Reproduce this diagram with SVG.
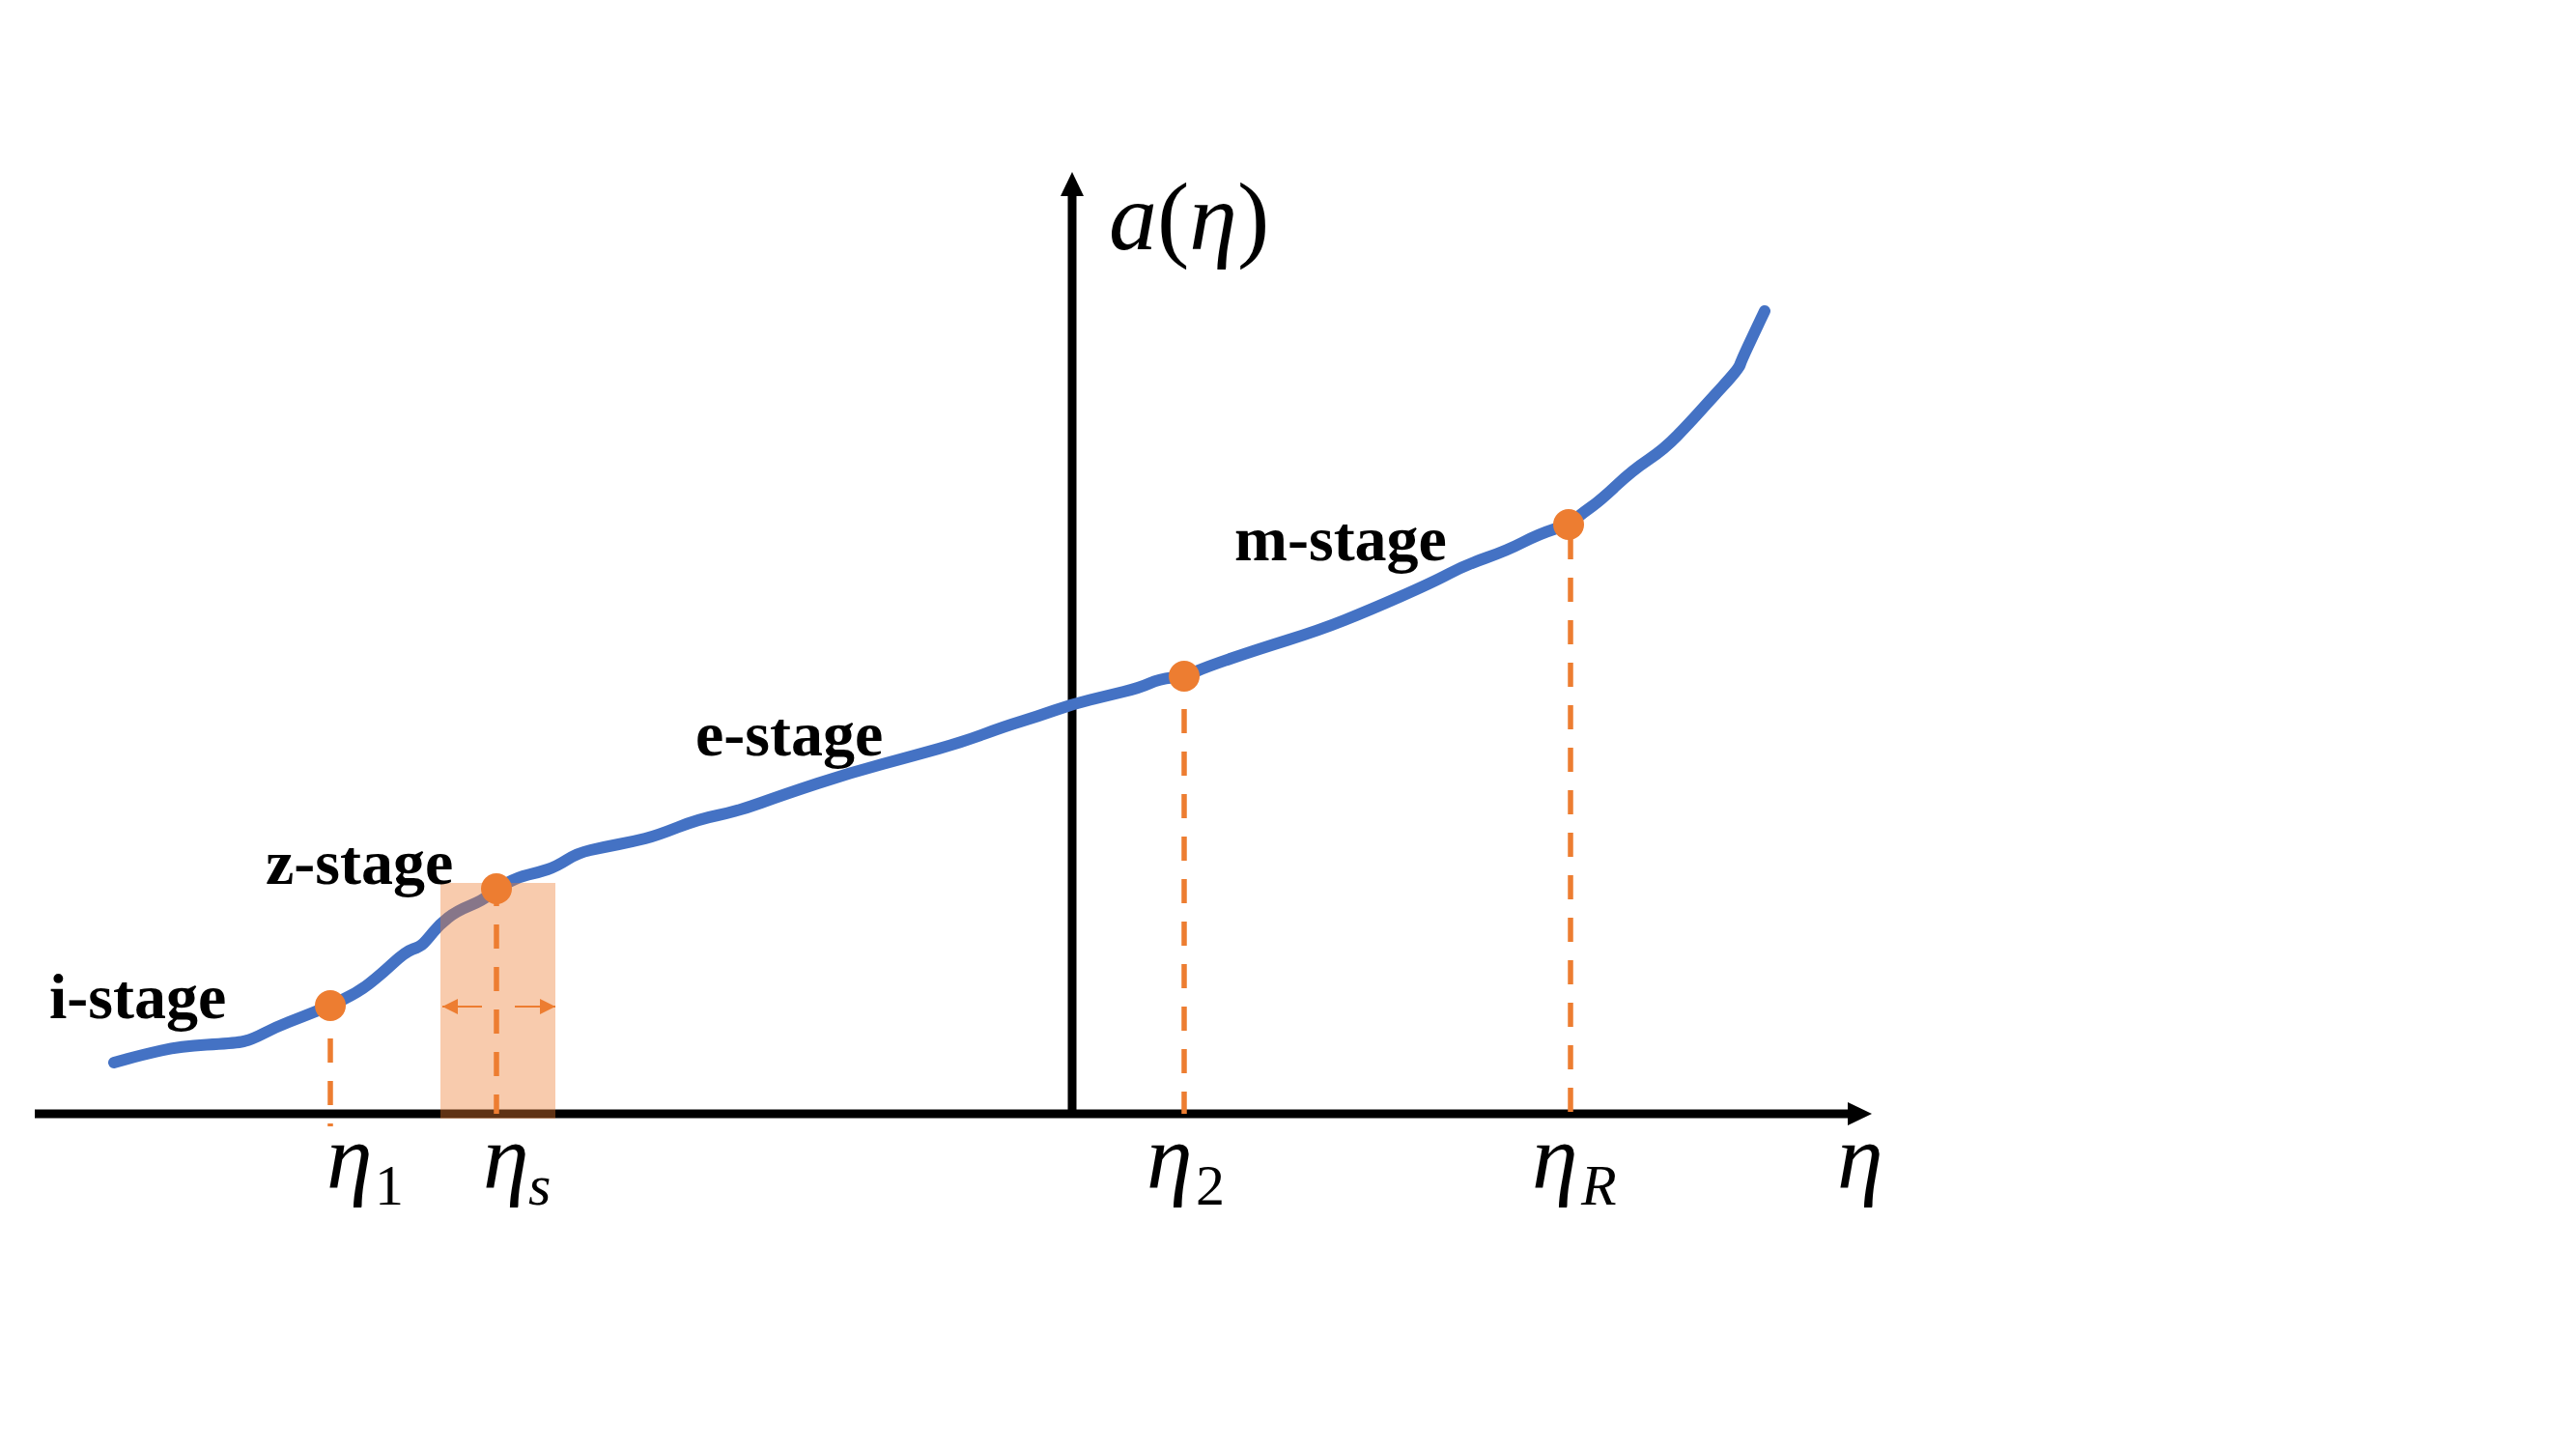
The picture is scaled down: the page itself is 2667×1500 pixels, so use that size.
<svg xmlns="http://www.w3.org/2000/svg" width="2667" height="1500" viewBox="0 0 2667 1500">
<style>
.axis{stroke:#000;stroke-width:9;fill:none}
.curve{stroke:#4472C4;stroke-width:12;fill:none;stroke-linecap:round;stroke-linejoin:round}
.dash{stroke:#ED7D31;stroke-width:5.5;stroke-dasharray:25 19;fill:none}
.dot{fill:#ED7D31}
.stage{font-family:"Liberation Serif","Times New Roman",serif;font-weight:bold;font-size:66px;fill:#000}
.math{font-family:"Liberation Serif","Times New Roman",serif;font-style:italic;font-size:96px;fill:#000}
.big{font-size:100px}
.sub{font-size:60px}
.up{font-style:normal}
.small{stroke:#ED7D31;stroke-width:2;fill:none}
</style>
<defs>
<marker id="axHead" markerUnits="userSpaceOnUse" markerWidth="26" markerHeight="26" refX="0" refY="12" orient="auto">
<path d="M0,0 L25,12 L0,24 Z" fill="#000"/>
</marker>
<marker id="smHead" markerUnits="userSpaceOnUse" markerWidth="17" markerHeight="17" refX="16" refY="8" orient="auto">
<path d="M0,0 L16,8 L0,16 Z" fill="#ED7D31"/>
</marker>
</defs>
<rect width="2667" height="1500" fill="#fff"/>
<g id="connectors">
<line id="x-axis" class="axis" x1="36" y1="1153" x2="1913" y2="1153" marker-end="url(#axHead)"/>
<line id="y-axis" class="axis" x1="1110" y1="1157" x2="1110" y2="203" marker-end="url(#axHead)"/>
</g>
<g id="curve">
<path class="curve" d="M118,1100 L132.5,1096 Q147,1092 167,1087.5 Q187,1083 214,1081.5 Q241,1080 250,1078.5 Q259,1077 272.5,1070 Q286,1063 299,1058 Q312,1053 327,1047 Q342,1041 356.5,1034 Q371,1027 382,1018.5 Q393,1010 406.5,997.5 Q420,985 427.5,982.5 Q435,980 438.5,976.5 Q442,973 448.5,965 Q455,957 464,950 Q473,943 486.5,937.5 Q500,932 507,926 Q514,920 525,914 Q536,908 547,905.5 Q558,903 567,900 Q576,897 587,890 Q598,883 611.5,880 Q625,877 640.5,874 Q656,871 668,868 Q680,865 701.5,856.5 Q723,848 743,844 Q763,840 788,831 Q813,822 846.5,811 Q880,800 913.5,791 Q947,782 972,775 Q997,768 1018.5,760 Q1040,752 1056.5,747 Q1073,742 1091.5,735.5 Q1110,729 1128.5,724.5 Q1147,720 1163.5,716 Q1180,712 1190,707.5 Q1200,703 1213.5,701.5 Q1227,700 1238.5,695 Q1250,690 1275,681.5 Q1300,673 1333.5,662.5 Q1367,652 1392,642 Q1417,632 1450,617.5 Q1483,603 1500,594 Q1517,585 1538.5,577.5 Q1560,570 1576.5,561.5 Q1593,553 1608.5,548 Q1624,543 1632,536.5 Q1640,530 1648.5,524 Q1657,518 1673.5,502.5 Q1690,487 1706.5,476 Q1723,465 1736.5,451 Q1750,437 1758.5,427.5 Q1767,418 1783.5,400 Q1800,382 1801.5,377.5 Q1803,373 1810,358 Q1817,343 1822,332.5 L1827,322"/>
</g>
<g id="zone">
<rect x="456" y="914" width="119" height="244" fill="#ED7D31" fill-opacity="0.4"/>
<line class="small" x1="499" y1="1042" x2="458" y2="1042" marker-end="url(#smHead)"/>
<line class="small" x1="533" y1="1042" x2="575" y2="1042" marker-end="url(#smHead)"/>
</g>
<g id="guides">
<line class="dash" x1="342" y1="1031" x2="342" y2="1166"/>
<line class="dash" x1="514" y1="913" x2="514" y2="1153"/>
<line class="dash" x1="1226" y1="690" x2="1226" y2="1153"/>
<line class="dash" x1="1626" y1="554" x2="1626" y2="1153"/>
</g>
<g id="node-eta1"><circle class="dot" cx="342" cy="1041" r="16"/><text class="math" x="338" y="1230">η<tspan class="sub up" x="388" y="1247">1</tspan></text></g>
<g id="node-etas"><circle class="dot" cx="514" cy="920" r="16"/><text class="math" x="500" y="1230">η<tspan class="sub" x="547" y="1247">s</tspan></text></g>
<g id="node-eta2"><circle class="dot" cx="1226" cy="700" r="16"/><text class="math" x="1187" y="1230">η<tspan class="sub up" x="1238" y="1247">2</tspan></text></g>
<g id="node-etaR"><circle class="dot" cx="1624" cy="543" r="16"/><text class="math" x="1586" y="1230">η<tspan class="sub" x="1637" y="1247">R</tspan></text></g>
<g id="label-eta"><text class="math" x="1902" y="1230">η</text></g>
<g id="label-a"><text class="math big" x="1148" y="258">a<tspan class="up">(</tspan>η<tspan class="up">)</tspan></text></g>
<g id="stages">
<text class="stage" x="51" y="1054">i-stage</text>
<text class="stage" x="275" y="915">z-stage</text>
<text class="stage" x="720" y="782">e-stage</text>
<text class="stage" x="1278" y="580">m-stage</text>
</g>
</svg>
